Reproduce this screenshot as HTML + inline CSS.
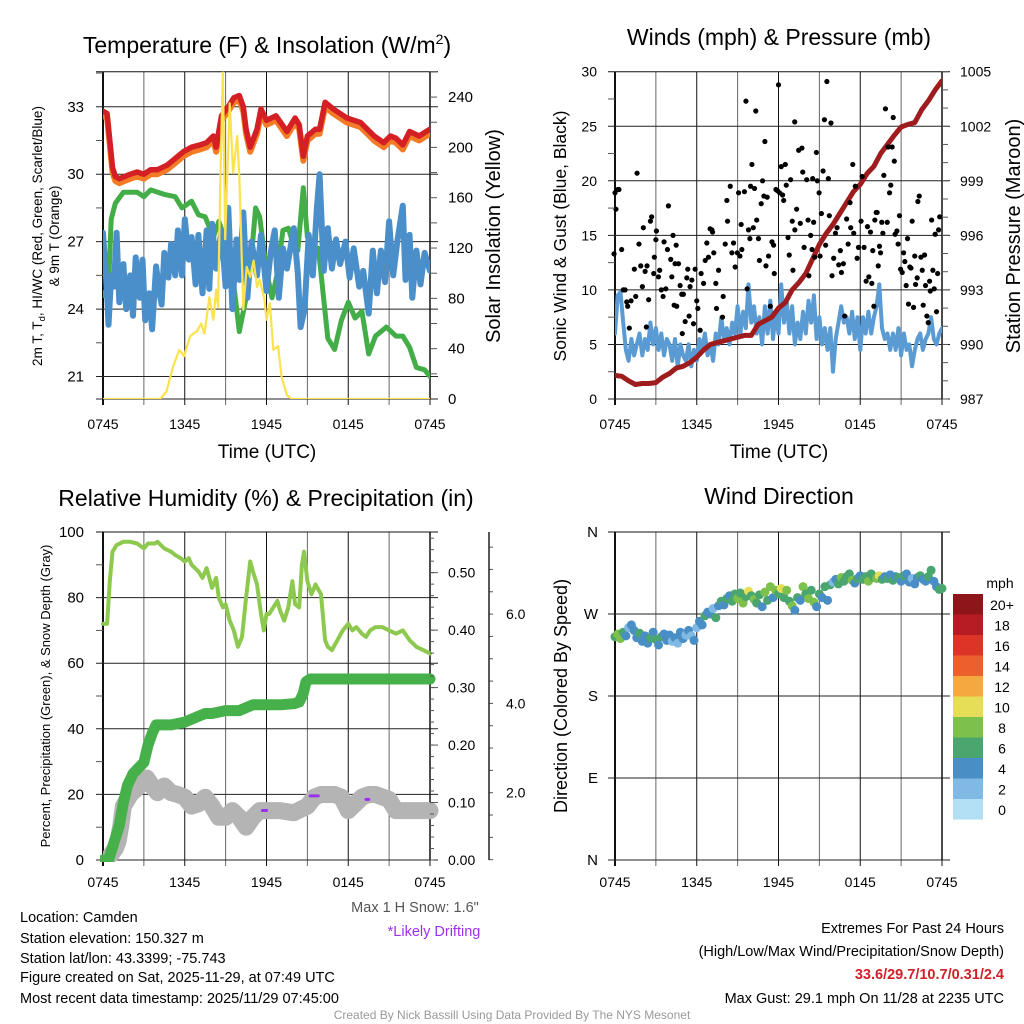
<!DOCTYPE html>
<html><head><meta charset="utf-8"><title>Camden Mesonet Meteogram</title>
<style>
html,body{margin:0;padding:0;background:#fff;}
svg{display:block;font-family:"Liberation Sans",Arial,sans-serif;}
</style></head>
<body>
<svg id="fig" width="1024" height="1024" viewBox="0 0 1024 1024">
<rect x="0" y="0" width="1024" height="1024" fill="#fff"/>
<g id="grids"></g>
<g id="marks"></g>
<g id="axes"></g>

<text x="267" y="53" font-size="23" text-anchor="middle">Temperature (F) &amp; Insolation (W/m<tspan dy="-9" font-size="14">2</tspan><tspan dy="9">)</tspan></text>
<text x="779" y="45" font-size="23" text-anchor="middle">Winds (mph) &amp; Pressure (mb)</text>
<text x="266" y="506" font-size="23" text-anchor="middle">Relative Humidity (%) &amp; Precipitation (in)</text>
<text x="779" y="504" font-size="23" text-anchor="middle">Wind Direction</text>

<text x="267" y="458" font-size="19" text-anchor="middle">Time (UTC)</text>
<text x="779" y="458" font-size="19" text-anchor="middle">Time (UTC)</text>

<text transform="translate(42,236) rotate(-90)" font-size="13.5" text-anchor="middle">2m T, T<tspan dy="3" font-size="9.5">d</tspan><tspan dy="-3">, HI/WC (Red, Green, Scarlet/Blue)</tspan></text>
<text transform="translate(59,236) rotate(-90)" font-size="13.5" text-anchor="middle">&amp; 9m T (Orange)</text>
<text transform="translate(500,236) rotate(-90)" font-size="20" text-anchor="middle">Solar Insolation (Yellow)</text>
<text transform="translate(566,236) rotate(-90)" font-size="17.5" text-anchor="middle">Sonic Wind &amp; Gust (Blue, Black)</text>
<text transform="translate(1020,236) rotate(-90)" font-size="20" text-anchor="middle">Station Pressure (Maroon)</text>
<text transform="translate(50,696) rotate(-90)" font-size="13" text-anchor="middle">Percent, Precipitation (Green), &amp; Snow Depth (Gray)</text>
<text transform="translate(567,696) rotate(-90)" font-size="18" text-anchor="middle">Direction (Colored By Speed)</text>

<text x="1000" y="588" font-size="14" text-anchor="middle">mph</text>

<text x="415" y="912" font-size="14.5" fill="#555" text-anchor="middle">Max 1 H Snow: 1.6"</text>
<text x="434" y="936" font-size="14.5" fill="#a030f0" text-anchor="middle">*Likely Drifting</text>

<g font-size="14.5">
<text x="20" y="922">Location: Camden</text>
<text x="20" y="943">Station elevation: 150.327 m</text>
<text x="20" y="963">Station lat/lon: 43.3399; -75.743</text>
<text x="20" y="982">Figure created on Sat, 2025-11-29, at 07:49 UTC</text>
<text x="20" y="1003">Most recent data timestamp: 2025/11/29 07:45:00</text>
</g>
<g font-size="14.5" text-anchor="end">
<text x="1004" y="933">Extremes For Past 24 Hours</text>
<text x="1004" y="956">(High/Low/Max Wind/Precipitation/Snow Depth)</text>
<text x="1004" y="979" fill="#d0202a" font-weight="bold">33.6/29.7/10.7/0.31/2.4</text>
<text x="1004" y="1003">Max Gust: 29.1 mph On 11/28 at 2235 UTC</text>
</g>
<text x="512" y="1019" font-size="12" fill="#999" text-anchor="middle">Created By Nick Bassill Using Data Provided By The NYS Mesonet</text>
</svg>
<script>
// ---------- DATA ----------
const xTickLabels = ["0745","1345","1945","0145","0745"];
const xTickHours = [0,6,12,18,24];

// Panel 1: temperatures (F)
const redT = [0,0.3,0.5,0.7,0.9,1.2,1.6,2,2.5,3,3.5,4,4.7,5.3,5.9,6.5,7.1,7.6,8.1,8.3,8.7,9.2,9.6,10,10.3,10.5,10.8,11.3,11.6,12,12.7,13.5,14.1,14.4,14.7,15,15.6,15.9,16.3,16.9,17.9,18.9,19.9,20.6,21.1,21.5,22,22.5,23.2,24];
const redV = [32.8,32.7,31.5,30.3,29.9,29.8,29.9,30.0,30.1,30.0,30.2,30.2,30.4,30.7,31.0,31.2,31.3,31.4,31.7,31.2,32.6,33.0,33.4,33.5,33.0,32.0,31.2,32.0,32.9,32.4,32.6,31.9,32.5,32.2,30.8,31.7,32.0,32.0,33.2,32.9,32.5,32.3,31.7,31.4,31.7,31.6,31.3,31.9,31.7,32.0];
const orangeV = [32.6,32.5,31.3,30.1,29.7,29.6,29.7,29.8,29.9,29.8,30.0,30.0,30.2,30.5,30.8,31.0,31.1,31.2,31.5,31.0,32.4,32.8,33.2,33.3,32.8,31.8,31.0,31.8,32.7,32.2,32.4,31.7,32.3,32.0,30.6,31.5,31.8,31.8,33.0,32.7,32.3,32.1,31.5,31.2,31.5,31.4,31.1,31.7,31.5,31.8];
const greenT = [0,0.4,0.6,0.9,1.5,2.5,3,3.5,4.5,5.3,5.8,6.5,7,7.5,8.1,8.5,8.9,9.5,10,10.5,11,11.2,11.5,12,12.4,12.8,13.2,13.6,14,14.3,14.7,15,15.3,15.8,16,16.5,17,17.5,18,18.5,19,19.5,20,20.8,21.5,22,22.5,23,23.6,24];
const greenV = [24.6,25.0,28.0,28.7,29.2,29.2,29.0,29.3,29.1,29.0,28.5,28.8,28.2,28.1,27.2,27.9,27.2,25.6,23.0,24.5,27.1,28.5,28.1,25.7,24.5,25.6,27.5,27.6,26.8,26.6,29.4,27.2,26.8,26.7,25.6,22.7,22.2,23.5,24.3,23.6,23.9,22.0,22.8,23.2,22.8,22.8,22.3,21.4,21.3,21.0];
const blueT = [0,0.3,0.4,0.6,0.8,1,1.2,1.5,1.7,2,2.2,2.4,2.7,2.9,3.1,3.4,3.6,3.9,4.1,4.3,4.5,4.8,5,5.3,5.5,5.8,6,6.3,6.5,6.8,7,7.3,7.6,7.8,8,8.3,8.7,9,9.2,9.5,9.8,10,10.3,10.6,10.9,11.3,11.6,12,12.3,12.6,12.9,13.2,13.5,14,14.3,14.5,14.8,15.1,15.4,15.7,15.9,16.2,16.5,16.8,17.1,17.4,17.8,18.1,18.4,18.8,19.1,19.5,19.8,20.1,20.4,20.7,21,21.3,21.6,22,22.2,22.5,22.7,23,23.3,23.6,24];
const blueV = [27.4,24.7,23.3,25.5,25.0,27.4,24.3,26.0,24.0,25.5,23.7,26.3,24.5,26.2,23.5,24.7,23.1,25.9,24.9,24.2,26.5,25.4,26.9,25.5,27.5,25.5,28.0,26.2,27.2,25.1,27.3,24.7,27.5,24.9,27.8,25.8,27.5,25.0,28.5,24.0,27.1,25.3,28.3,24.5,27.0,25.5,27.3,24.8,26.5,27.5,24.5,26.7,25.8,27.6,25.6,23.2,24.0,27.3,25.5,28.5,30.0,25.7,27.6,25.8,27.1,26.0,27.0,25.4,26.7,25.0,25.7,23.8,26.6,24.7,26.6,25.2,27.9,25.5,27.0,28.6,25.3,27.3,24.5,26.6,25.1,26.5,25.7];
// Solar insolation (W/m2)
const solT = [0,4.2,4.65,5.15,5.6,5.95,6.4,6.9,7.2,7.45,7.8,8.1,8.3,8.45,8.6,8.8,8.97,9.3,9.55,9.7,9.85,10.0,10.3,10.55,10.8,11.05,11.3,11.5,11.85,12.0,12.25,12.5,12.85,13.1,13.5,13.85,24];
const solV = [0,0,6,26,39,34,50,54,60,52,81,63,87,73,169,260,127,235,180,195,209,177,71,105,97,110,89,95,79,63,76,39,42,18,3,0,0];

// Panel 2: winds and pressure
const windT = []; for (let i = 0; i <= 120; i++) windT.push(i * 0.2);
const windV = [6,9.5,9.8,7,4.5,3.5,5.5,4,5,6, 4,5.5,4.5,7,5,6.5,4.5,6,4,5.5, 5,3.5,5.5,3,5,4,3.5,5,3,4.5, 3.5,5.5,4.5,6,4,5,3.5,6,5,7.5, 5.5,6.5,5,7,6,8.5,6,8,6.5,10.5, 7,8.5,6,7.5,5,8.5,6,9,5.5,8, 6,10.5,7,9,6,8.5,5,7,5.5,8, 6,9,7,9.5,5.5,7.5,5,6.5,4.5,6.5, 2.5,5.5,7,8.5,7,7.5,6,8,5.5,7.5, 4.5,7.5,6,8,6,7.5,8.5,10.5,6.5,5.5, 6,4.5,6,4.5,6.5,4,6,4.5,5,3, 4.5,5.5,6,4.5,5.5,6,7.5,5.5,5,6, 6.5];
const gustT = [-0.07,0,0.07,0.2,0.29,0.49,0.61,0.74,0.86,0.93,1.05,1.18,1.42,1.52,1.62,1.76,1.89,2.01,2.08,2.21,2.3,2.35,2.47,2.6,2.69,2.84,2.89,3.0,3.04,3.19,3.28,3.4,3.53,3.6,3.73,3.85,3.92,4.09,4.17,4.26,4.34,4.41,4.49,4.53,4.66,4.78,4.9,4.94,5.02,5.15,5.27,5.34,5.44,5.51,5.64,5.76,5.88,6.0,6.08,6.25,6.32,6.5,6.62,6.74,6.86,6.98,7.11,7.16,7.25,7.4,7.45,7.6,7.89,7.94,8.09,8.21,8.26,8.46,8.58,8.7,8.82,8.98,9.07,9.17,9.26,9.31,9.5,9.61,9.7,9.8,9.9,9.95,10.05,10.15,10.24,10.33,10.4,10.53,10.6,10.73,10.83,10.93,11.0,11.08,11.17,11.27,11.4,11.52,11.64,11.69,11.81,11.92,12.0,12.08,12.2,12.3,12.38,12.5,12.57,12.7,12.79,12.89,13.01,13.06,13.19,13.2,13.33,13.48,13.6,13.72,13.78,13.88,14.07,14.17,14.23,14.36,14.46,14.51,14.58,14.66,14.78,14.85,14.98,15.05,15.15,15.27,15.37,15.46,15.55,15.66,15.73,15.85,15.93,16.05,16.18,16.3,16.42,16.54,16.62,16.76,16.86,17.0,17.11,17.25,17.3,17.45,17.52,17.64,17.77,17.87,18.06,18.14,18.28,18.43,18.53,18.63,18.75,18.85,18.92,19.0,19.07,19.17,19.24,19.32,19.41,19.49,19.58,19.66,19.73,19.85,19.98,20.05,20.15,20.24,20.34,20.42,20.5,20.56,20.69,20.78,20.88,20.96,21.08,21.18,21.27,21.37,21.47,21.54,21.64,21.72,21.81,21.91,22.0,22.06,22.18,22.23,22.33,22.45,22.55,22.62,22.72,22.79,22.89,22.99,23.09,23.14,23.24,23.33,23.43,23.5,23.6,23.68,23.75,23.83];
const gustV = [13.3,18.9,17.4,19.2,19.2,13.7,10.0,10,8.9,8.5,6.5,9,11.9,9.4,20.7,14.2,12.2,10.3,15.7,11.7,6.6,12.2,9.1,16.3,16.7,11.5,13,14.6,15.4,11.2,11.8,10,9.4,14.4,10.1,13.7,17.7,12.8,11.2,15.0,8.6,12.4,14.1,8.5,12.4,10.4,9.6,6.0,9.6,7.1,11.1,11.9,7.6,10.3,10.9,6.9,11.9,9,8.3,6.3,11.5,10.6,12.7,14.3,13,15.6,15.5,15.3,13.4,10.6,8.3,11.8,7.5,9.4,14.2,18.2,16.3,19.5,13.4,14.3,12.1,13.4,18.9,13.1,16,13.7,19,27.3,10.1,15.5,14.7,19.5,21.5,15.7,19.3,26.4,16.4,14.7,12.7,17.9,20,18.6,23.6,12.2,18.5,13.1,8.5,14.4,14.1,11.5,19.2,19.1,28.8,18.9,21.3,18.7,18.2,21.5,19.6,14.8,13.2,20.1,16.3,11.8,25.4,15.5,17.4,22.8,16.1,23,20.8,13.9,20.1,16.4,11.3,15,13.7,20.2,16.2,13,22.6,20,18.9,13.1,17,20.9,25.6,14.1,29.1,20.2,16.8,25.3,11.3,12.9,15.2,15.7,12.3,13.6,11.6,12.4,7.6,16.5,14.2,18,15.7,21.5,15.2,19.5,12.9,13.9,16.3,20.4,13.9,10.8,15.8,11.2,15.3,10.6,13.6,8.5,16.4,17.1,17.1,12.2,14,13.4,16.2,15.2,20.5,26.6,16.2,23.1,18.9,19.6,23.1,25.8,21.8,15.1,15.4,14.2,16.8,11.9,11.6,13.4,12.6,10.4,14.7,8.7,12.1,12.0,16.3,8.4,13.1,10.5,11.1,18.1,18.6,13,11.8,8.6,13.2,10.4,7.6,7,10.8,9.9,16.4,11.8,10.1,15.1,8,11.5,15.5,16.7,14.4,16.5,11.3,14.1,12.1,13.5];
const presT = [0,0.5,1,1.5,2,2.5,3,3.5,4,4.5,5,5.5,6,6.5,7,7.5,8,8.5,9,9.5,10,10.5,11,11.5,12,12.5,13,13.5,14,14.5,15,15.5,16,16.5,17,17.5,18,18.5,19,19.5,20,20.5,21,21.5,22,22.5,23,23.5,24];
const presV = [988.3,988.25,988.0,987.8,987.85,987.85,987.9,988.2,988.4,988.7,988.8,989.0,989.3,989.7,990.0,990.1,990.2,990.3,990.4,990.5,990.5,991.1,991.3,991.5,992.0,992.3,993.0,993.4,993.9,994.7,995.5,996.1,996.6,997.2,997.8,998.4,998.8,999.4,999.8,1000.5,1001.0,1001.5,1001.96,1002.1,1002.2,1002.9,1003.4,1004.0,1004.5];

// Panel 3: RH (%), precipitation (in), snow depth (in)
const rhT = [0,0.3,0.5,0.7,1,1.5,2,2.5,3,3.3,3.8,4,4.5,5,5.3,5.7,6,6.3,6.5,7,7.3,7.6,7.8,8,8.3,8.5,8.8,9,9.3,9.6,9.9,10.2,10.5,10.8,11,11.3,11.6,11.8,12,12.2,12.5,12.8,13,13.3,13.6,13.9,14.1,14.4,14.6,14.75,15,15.3,15.6,16,16.3,16.5,16.8,17.2,17.6,18,18.3,18.6,19,19.3,19.6,20,20.5,21,21.5,22,22.5,23,23.5,24];
const rhV = [72,72,85,94,96,97,97,96.5,95,96.5,96.5,97,95,94,93,92,91,92,90,88,86,89,86,83,86,80,77,78,73,70,65,68,80,91,88,84,75,70,75,75,77,79,76,73,77,85,78,77,90,94,85,81,84,81,67,65,64,67,70,72,70,71,69,68,70,71,71,70,69,70,67,65,64,63];
const prT = [0,0.4,0.8,1.2,1.5,1.8,2.2,2.6,3,3.3,3.6,3.9,4.2,5,6,6.5,7,7.5,8,9,10,10.5,11,12,13,14,14.4,14.7,14.9,15.2,16,17,18,20,22,24];
const prV = [0,0,0.03,0.06,0.10,0.13,0.15,0.16,0.17,0.20,0.22,0.235,0.235,0.235,0.24,0.245,0.25,0.255,0.255,0.26,0.26,0.265,0.27,0.27,0.27,0.272,0.275,0.29,0.31,0.315,0.315,0.315,0.315,0.315,0.315,0.315];
const snowT = [0.6,0.9,1.1,1.3,1.5,2,2.5,3.2,3.6,4,4.5,5,5.5,6,6.5,7,7.5,8,8.5,9,9.5,10,10.5,11,11.5,12,13,14,15,15.5,16,16.5,17,17.5,18,18.5,19,19.5,20,21,21.5,22,24];
const snowV = [0.62,0.75,0.9,1.25,1.7,1.96,2.1,2.33,2.15,2.0,2.15,2.0,1.96,1.9,1.7,1.75,1.9,1.7,1.45,1.45,1.6,1.45,1.23,1.45,1.6,1.6,1.6,1.55,1.7,1.9,1.96,1.96,1.96,1.9,1.6,1.75,1.9,1.96,1.96,1.85,1.6,1.6,1.6];
const driftStart = [11.7,15.2,19.3];
const driftEnd = [12.0,15.8,19.5];
const driftDepth = [1.6,1.93,1.85];

// Panel 4: wind direction (deg) at windT, colored by windV
const dirV = [245,248,243,250,246,255,258,252,244,249, 240,246,238,244,250,242,236,245,248,241, 247,240,244,238,250,243,247,252,246,241, 255,262,258,268,272,270,276,266,279,284, 280,287,290,284,292,287,293,282,289,295, 290,286,282,291,278,294,285,300,288,296, 292,298,288,296,284,279,274,288,285,300, 292,287,296,283,278,292,288,300,285,302, 305,308,303,310,306,311,314,307,304,309, 312,308,311,306,314,310,309,312,308,311, 309,313,307,311,310,306,312,314,305,309, 303,310,312,308,306,311,318,306,300,297, 298];
const cbLabels = ["20+","18","16","14","12","10","8","6","4","2","0"];
const cbColors = ["#8e161b","#b71c24","#dc3528","#ee5f2e","#f5a840","#e5de56","#7dc04b","#4aa56e","#4a8ec6","#7fb9e4","#b3e0f5"];

// Axis tick values
const p1LeftTicks = [21,24,27,30,33];
const p1RightTicks = [0,40,80,120,160,200,240];
const p2LeftTicks = [0,5,10,15,20,25,30];
const p2RightTicks = [987,990,993,996,999,1002,1005];
const p3LeftTicks = [0,20,40,60,80,100];
const p3RightTicks = [0,0.1,0.2,0.3,0.4,0.5];
const p3SnowTicks = [2,4,6];
const p4Ticks = [0,90,180,270,360];
const p4Labels = ["N","E","S","W","N"];

// ---------- SCALES ----------
const NS = "http://www.w3.org/2000/svg";
const PX = 13.625;
const xL = h => 103 + h * PX;
const xR = h => 615 + h * PX;
const TOP1 = 71.7, BOT1 = 399, TOP3 = 532, BOT3 = 860;
const yT = v => BOT1 - (v - 20) / 14.56 * (BOT1 - TOP1);
const yS = v => BOT1 - v * 1.258;
const yW = v => BOT1 - v * (BOT1 - TOP1) / 30;
const yP = v => BOT1 - (v - 987) * (BOT1 - TOP1) / 18;
const yRH = v => BOT3 - v * 3.28;
const yPr = v => BOT3 - v * 574.7;
const ySn = v => 882 - v * 44.65;
const yD = v => BOT3 - v / 360 * 328;

function mk(tag, attrs, parent) {
  const e = document.createElementNS(NS, tag);
  for (const k in attrs) e.setAttribute(k, attrs[k]);
  parent.appendChild(e);
  return e;
}
const G = document.getElementById('grids');
const M = document.getElementById('marks');
const A = document.getElementById('axes');

function path(ts, vs, xf, yf, color, w, name, parent) {
  let d = "";
  for (let i = 0; i < ts.length; i++) d += (i ? "L" : "M") + xf(ts[i]).toFixed(1) + "," + yf(vs[i]).toFixed(1);
  const p = mk('path', {d: d, fill: "none", stroke: color, "stroke-width": w, "stroke-linejoin": "round", "stroke-linecap": "round"}, parent || M);
  
  
  return p;
}

function clip(id, x, y, w, h) {
  const defs = mk('defs', {}, M);
  const c = mk('clipPath', {id: id}, defs);
  mk('rect', {x: x, y: y, width: w, height: h}, c);
}
clip('c1', 103, 71.7, 327, 327.3);
clip('c2', 615, 71.7, 327, 327.3);
clip('c3', 100, 532, 340, 330);

// ---------- FRAME / GRID ----------
function frame(x0, top, bot, hLines, yf, prefix) {
  const x1 = x0 + 24 * PX;
  for (let h = 0; h <= 24; h += 3) {
    const l = mk('line', {x1: x0 + h * PX, x2: x0 + h * PX, y1: top, y2: bot + 6, stroke: (h / 3) % 2 ? "#666" : "#111", "stroke-width": h === 0 ? 2 : 1}, G);
    
    
  }
  hLines.forEach(v => {
    const l = mk('line', {x1: x0 - 7, x2: x1 + 8, y1: yf(v), y2: yf(v), stroke: "#222", "stroke-width": 1}, G);
    
    
  });
  const t = mk('line', {x1: x0 - 7, x2: x1 + 8, y1: top, y2: top, stroke: "#111", "stroke-width": 1}, G);
  
  
  const r = mk('line', {x1: x1, x2: x1, y1: top, y2: bot, stroke: "#111", "stroke-width": 1.5}, G);
  
  
  xTickHours.forEach((h, i) => {
    const tx = mk('text', {x: x0 + h * PX, y: bot + 30 - (bot === BOT3 ? 3 : 0), "font-size": 14, "text-anchor": "middle"}, A);
    tx.textContent = xTickLabels[i];
    
    
  });
}
frame(103, TOP1, BOT1, [21, 24, 27, 30, 33, 20], yT, 'temperature');
frame(615, TOP1, BOT1, [0, 5, 10, 15, 20, 25], yW, 'wind');
frame(103, TOP3, BOT3, [0, 20, 40, 60, 80], yRH, 'humidity');
frame(615, TOP3, BOT3, [0, 90, 180, 270], yD, 'direction');

function tickLabels(vals, yf, x, anchor, fmt, prefix, size) {
  vals.forEach(v => {
    const tx = mk('text', {x: x, y: yf(v) + 5, "font-size": size || 14, "text-anchor": anchor}, A);
    tx.textContent = fmt(v);
    
    
  });
}
function minorTicks(from, to, step, yf, x, len, prefix) {
  for (let v = from; v <= to + 1e-9; v += step) {
    const l = mk('line', {x1: x, x2: x + len, y1: yf(v), y2: yf(v), stroke: "#555", "stroke-width": 1}, A);
    
    
  }
}
tickLabels(p1LeftTicks, yT, 84, "end", v => v, 'temperature-left', 15);
tickLabels(p1RightTicks, yS, 448, "start", v => v, 'insolation-right', 15);
minorTicks(22.5, 34.5, 3, yT, 96, 7, 'temperature-left');
minorTicks(20, 260, 20, yS, 430, 7, 'insolation-right');
tickLabels(p2LeftTicks, yW, 597, "end", v => v, 'wind-left', 14);
tickLabels(p2RightTicks, yP, 960, "start", v => v, 'pressure-right', 14);
minorTicks(2.5, 30, 5, yW, 608, 7, 'wind-left');
minorTicks(987, 1005, 1, yP, 942, 6, 'pressure-right');
tickLabels(p3LeftTicks, yRH, 84, "end", v => v, 'humidity-left', 15);
tickLabels(p3RightTicks, yPr, 448, "start", v => v.toFixed(2), 'precip-right', 14);
minorTicks(10, 90, 20, yRH, 96, 7, 'humidity-left');
minorTicks(0, 0.56, 0.02, yPr, 430, 4, 'precip-right');
minorTicks(0.1, 0.5, 0.1, yPr, 430, 8, 'precip-right-major');
tickLabels(p3SnowTicks, ySn, 506, "start", v => v.toFixed(1), 'snow-right', 14);
minorTicks(0.5, 7.5, 0.5, ySn, 489, 4, 'snow-right');
tickLabels(p4Ticks, yD, 598, "end", (v, i) => p4Labels[p4Ticks.indexOf(v)], 'direction-left', 15);
{
  const a = mk('line', {x1: 489, x2: 489, y1: TOP3, y2: BOT3, stroke: "#222", "stroke-width": 1.5}, A);
  
  
}

// ---------- PANEL 1 ----------
const g1 = mk('g', {"clip-path": "url(#c1)"}, M);


path(greenT, greenV, xL, yT, "#43ad48", 5, 'dewpoint-line', g1);
path(blueT, blueV, xL, yT, "#4a8fca", 6, 'wind-chill-line', g1);
path(redT, orangeV, xL, yT, "#f47b25", 6, 'temp-9m-line', g1);
path(redT, redV, xL, yT, "#d42025", 5.5, 'temp-2m-line', g1);
path(solT, solV, xL, yS, "#fbe24e", 2.2, 'insolation-line', g1);

// ---------- PANEL 2 ----------
const g2 = mk('g', {"clip-path": "url(#c2)"}, M);


path(windT, windV, xR, yW, "#5a9bd3", 4, 'sonic-wind-line', g2);
path(presT, presV, xR, yP, "#9e1c1e", 5, 'pressure-line', g2);
for (let i = 0; i < gustT.length; i++) {
  const c = mk('circle', {cx: xR(gustT[i]), cy: yW(gustV[i]), r: 2.6, fill: "#000"}, M);
  
  
}

// ---------- PANEL 3 ----------
const g3 = mk('g', {"clip-path": "url(#c3)"}, M);


path(snowT, snowV, xL, ySn, "#b4b4b4", 17, 'snow-depth-line', g3);
for (let i = 0; i < driftStart.length; i++) {
  const l = mk('line', {x1: xL(driftStart[i]), x2: xL(driftEnd[i]), y1: ySn(driftDepth[i]), y2: ySn(driftDepth[i]), stroke: "#9b30f0", "stroke-width": 3, "stroke-linecap": "round"}, g3);
  
  
}
path(prT, prV, xL, yPr, "#46b14a", 11, 'precipitation-line', g3);
path(rhT, rhV, xL, yRH, "#8dc94e", 4, 'relative-humidity-line', g3);

// ---------- PANEL 4 ----------
function speedColor(s) {
  let idx = Math.floor(s / 2);
  if (idx > 10) idx = 10;
  return cbColors[10 - idx];
}
for (let i = 0; i < dirV.length; i++) {
  const c = mk('circle', {cx: xR(windT[i]), cy: yD(dirV[i]), r: 4.5, fill: speedColor(windV[i])}, M);
  
  
}
for (let i = 0; i < cbLabels.length; i++) {
  const r = mk('rect', {x: 953, y: 594 + i * 20.5, width: 30, height: 20.6, fill: cbColors[i]}, A);
  
  
  const t = mk('text', {x: 1002, y: 594 + i * 20.5 + 16, "font-size": 14, "text-anchor": "middle"}, A);
  t.textContent = cbLabels[i];
  
  
}
</script>
</body></html>
